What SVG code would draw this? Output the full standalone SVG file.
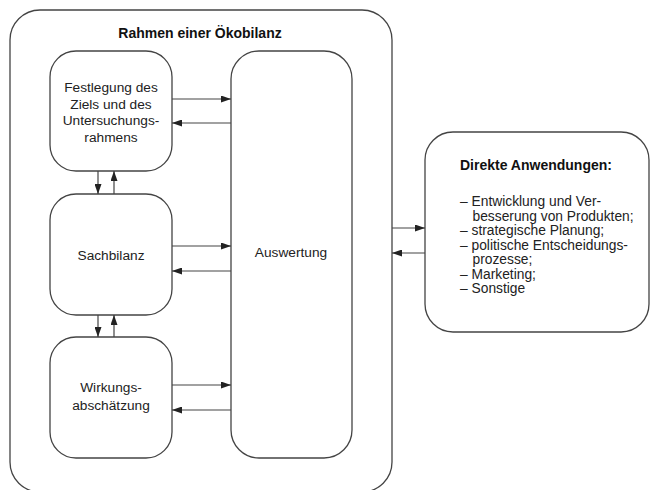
<svg xmlns="http://www.w3.org/2000/svg" width="651" height="490" viewBox="0 0 651 490">
<defs>
<style>
.box{fill:#fff;stroke:#444;stroke-width:1.3}
.t{font-family:"Liberation Sans",Arial,sans-serif;font-size:13.7px;fill:#222;text-anchor:middle}
.b{font-family:"Liberation Sans",Arial,sans-serif;font-size:14px;font-weight:bold;fill:#111}
.r{font-family:"Liberation Sans",Arial,sans-serif;font-size:13.8px;fill:#222}
.c{stroke:#444;stroke-width:1.2;fill:none;marker-end:url(#ah)}
</style>
<marker id="ah" markerUnits="userSpaceOnUse" markerWidth="10" markerHeight="7" refX="10" refY="3.5" orient="auto">
<path d="M0,0 L10,3.5 L0,7 z" fill="#222"/>
</marker>
</defs>
<rect width="651" height="490" fill="#fff"/>
<g id="frame">
<rect class="box" x="10" y="10" width="382" height="482" rx="30"/>
<text class="b" x="200" y="38" text-anchor="middle">Rahmen einer Ökobilanz</text>
</g>
<g id="festlegung">
<rect class="box" x="50" y="51" width="122" height="120" rx="26"/>
<text class="t" x="111" y="92">Festlegung des</text>
<text class="t" x="111" y="108.5">Ziels und des</text>
<text class="t" x="111" y="125">Untersuchungs-</text>
<text class="t" x="111" y="141.5">rahmens</text>
</g>
<g id="sachbilanz">
<rect class="box" x="50" y="194" width="122" height="121" rx="26"/>
<text class="t" x="111" y="260">Sachbilanz</text>
</g>
<g id="wirkung">
<rect class="box" x="50" y="337" width="122" height="121" rx="26"/>
<text class="t" x="111" y="392">Wirkungs-</text>
<text class="t" x="111" y="409.5">abschätzung</text>
</g>
<g id="auswertung">
<rect class="box" x="231" y="51" width="121" height="407" rx="28"/>
<text class="t" x="291" y="257">Auswertung</text>
</g>
<g id="anwendungen">
<rect class="box" x="425" y="132" width="224" height="200" rx="28"/>
<text class="b" x="460" y="170">Direkte Anwendungen:</text>
<text class="r" x="460" y="206">– Entwicklung und Ver-</text>
<text class="r" x="472.5" y="220.5">besserung von Produkten;</text>
<text class="r" x="460" y="235">– strategische Planung;</text>
<text class="r" x="460" y="249.5">– politische Entscheidungs-</text>
<text class="r" x="472.5" y="264">prozesse;</text>
<text class="r" x="460" y="278.5">– Marketing;</text>
<text class="r" x="460" y="293">– Sonstige</text>
</g>
<g id="connectors">
<line class="c" x1="172" y1="99" x2="231" y2="99"/>
<line class="c" x1="231" y1="123" x2="172" y2="123"/>
<line class="c" x1="172" y1="246" x2="231" y2="246"/>
<line class="c" x1="231" y1="271" x2="172" y2="271"/>
<line class="c" x1="172" y1="385" x2="231" y2="385"/>
<line class="c" x1="231" y1="410" x2="172" y2="410"/>
<line class="c" x1="98" y1="171" x2="98" y2="194"/>
<line class="c" x1="114" y1="194" x2="114" y2="171"/>
<line class="c" x1="98" y1="315" x2="98" y2="337"/>
<line class="c" x1="114" y1="337" x2="114" y2="315"/>
<line class="c" x1="392" y1="228" x2="425" y2="228"/>
<line class="c" x1="425" y1="253" x2="392" y2="253"/>
</g>
</svg>
